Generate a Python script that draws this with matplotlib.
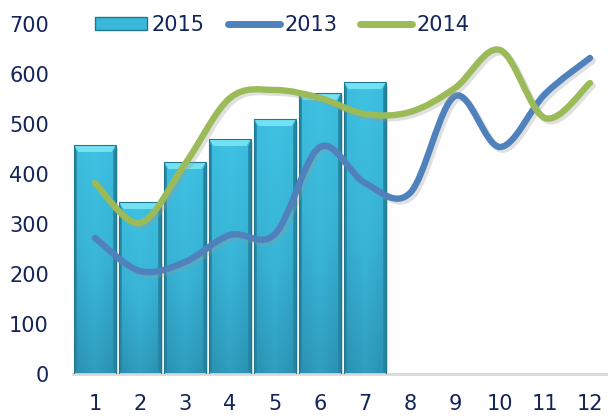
import numpy as np
import matplotlib
matplotlib.use("Agg")
import matplotlib.pyplot as plt
from matplotlib.path import Path
from matplotlib.patches import PathPatch, Polygon, Rectangle
from matplotlib.lines import Line2D
from matplotlib.colors import LinearSegmentedColormap
import matplotlib.patheffects as pe

months = [1, 2, 3, 4, 5, 6, 7, 8, 9, 10, 11, 12]
bar_months = [1, 2, 3, 4, 5, 6, 7]
vals_2015 = [458, 344, 424, 470, 510, 562, 584]
vals_2013 = [272, 206, 224, 278, 280, 454, 382, 362, 556, 454, 560, 632]
vals_2014 = [382, 302, 420, 552, 568, 552, 520, 524, 572, 648, 512, 582]
yticks = [0, 100, 200, 300, 400, 500, 600, 700]

TXT = "#13245a"
FONT = ["DejaVu Sans Condensed", "DejaVu Sans"]
FS = 15
LW = 4.6

fig = plt.figure(figsize=(6.08, 4.16), dpi=100)
W, H = 608, 416
ax = fig.add_axes([72.5 / W, 42 / H, 540 / W, 350 / H])
ax.set_xlim(0.5, 12.5)
ax.set_ylim(0, 700)

for s in ["left", "right", "top"]:
    ax.spines[s].set_visible(False)
ax.spines["bottom"].set_color("#d9d9d9")
ax.spines["bottom"].set_linewidth(2)
ax.tick_params(length=0)
ax.set_xticks(months)
ax.set_xticklabels([str(m) for m in months])
ax.set_yticks(yticks)
ax.set_yticklabels([str(v) for v in yticks])
for lab in ax.get_xticklabels() + ax.get_yticklabels():
    lab.set_fontfamily(FONT)
    lab.set_fontsize(FS)
    lab.set_color(TXT)
ax.tick_params(axis="x", pad=14.5)
ax.tick_params(axis="y", pad=17)

# bars with gradient
bw = 0.93
cmap = LinearSegmentedColormap.from_list("cy", ["#2a90b0", "#38b3d6", "#3fc2e3"])
hgrad = np.abs(np.linspace(-1, 1, 64))
for x, v in zip(bar_months, vals_2015):
    ax.add_patch(Rectangle((x - bw / 2 + 0.05, 0), bw, v - 5, facecolor="#cfcfcf",
                           edgecolor="none", zorder=1.5, alpha=0.7))
    rect = Rectangle((x - bw / 2, 0), bw, v, facecolor="none", edgecolor="#1f7890",
                     linewidth=0.8, zorder=3)
    ax.add_patch(rect)
    img = np.outer(np.linspace(0, 1, 256), np.ones(64)) * 0.8 + (1 - hgrad) * 0.2
    im = ax.imshow(img, cmap=cmap, extent=(x - bw / 2, x + bw / 2, 0, v), origin="lower",
                   aspect="auto", zorder=2, vmin=0, vmax=1)
    im.set_clip_path(rect)
    d = 0.1
    hb = 14
    ax.add_patch(Polygon([(x - bw / 2, v), (x + bw / 2, v), (x + bw / 2 - d, v - hb),
                          (x - bw / 2 + d, v - hb)], closed=True, facecolor="#72e2f3",
                         edgecolor="none", zorder=2.5))
    ax.add_patch(Polygon([(x - bw / 2, 0), (x - bw / 2 + d * 0.6, 8), (x - bw / 2 + d * 0.6, v - hb),
                          (x - bw / 2, v)], closed=True, facecolor="#2585a0",
                         edgecolor="none", zorder=2.5))
    ax.add_patch(Polygon([(x + bw / 2, 0), (x + bw / 2 - d * 0.6, 8), (x + bw / 2 - d * 0.6, v - hb),
                          (x + bw / 2, v)], closed=True, facecolor="#2585a0",
                         edgecolor="none", zorder=2.5))
ax.set_xlim(0.5, 12.5)
ax.set_ylim(0, 700)


def smooth_path(xs, ys):
    pts = np.column_stack([xs, ys]).astype(float)
    n = len(pts)
    verts = [pts[0]]
    codes = [Path.MOVETO]
    for i in range(n - 1):
        p0 = pts[i - 1] if i > 0 else pts[i]
        p1 = pts[i]
        p2 = pts[i + 1]
        p3 = pts[i + 2] if i + 2 < n else pts[i + 1]
        c1 = p1 + (p2 - p0) / 6.0
        c2 = p2 - (p3 - p1) / 6.0
        verts += [c1, c2, p2]
        codes += [Path.CURVE4] * 3
    return Path(verts, codes)


shadow = [pe.SimpleLineShadow(offset=(2, -2), shadow_color="#999999", alpha=0.3), pe.Normal()]
for vals, col in [(vals_2013, "#4f81bd"), (vals_2014, "#9bbb59")]:
    pp = PathPatch(smooth_path(months, vals), facecolor="none", edgecolor=col,
                   linewidth=LW, capstyle="round", joinstyle="round", zorder=4)
    pp.set_path_effects(shadow)
    ax.add_patch(pp)

bar_handle = Rectangle((0, 0), 1, 1, facecolor="#3ab8da", edgecolor="#1f7890")
h13 = Line2D([], [], color="#4f81bd", linewidth=LW + 0.4, solid_capstyle="round")
h14 = Line2D([], [], color="#9bbb59", linewidth=LW + 0.4, solid_capstyle="round")
leg = fig.legend([bar_handle, h13, h14], ["2015", "2013", "2014"], loc="center left",
                 bbox_to_anchor=(95 / W, 1 - 25 / H), ncol=3, frameon=False,
                 handlelength=2.5, handleheight=0.6, handletextpad=0.22, columnspacing=1.1,
                 borderaxespad=0, borderpad=0,
                 prop={"family": FONT, "size": FS})
for t in leg.get_texts():
    t.set_color(TXT)

fig.savefig("out.png", dpi=100)
